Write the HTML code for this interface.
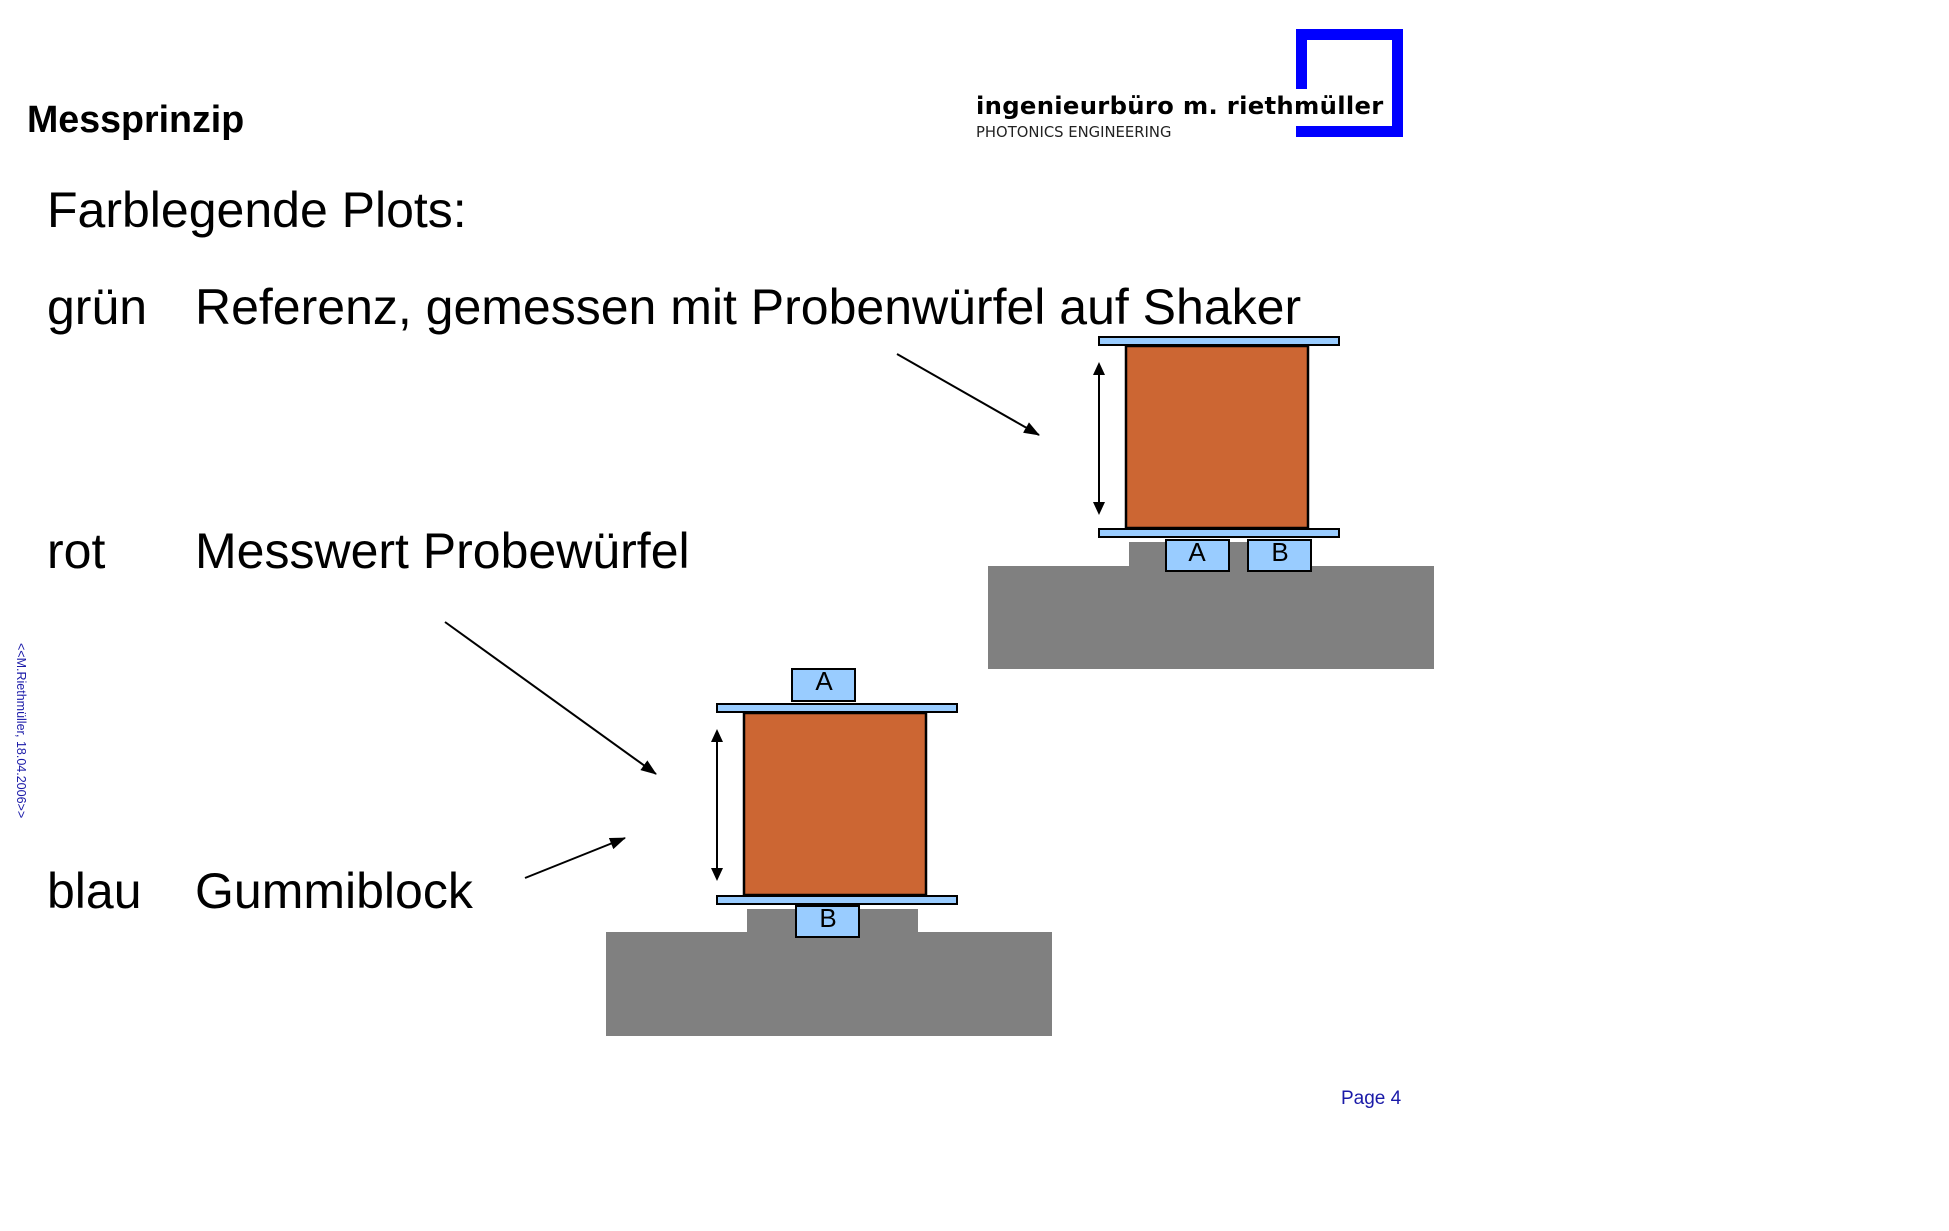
<!DOCTYPE html>
<html><head><meta charset="utf-8"><style>
body{margin:0;width:1949px;height:1231px;background:#fff;position:relative;overflow:hidden;font-family:"Liberation Sans",Arial,sans-serif;}
.t{position:absolute;white-space:nowrap;line-height:1;}
</style></head><body>
<div class="t" style="left:27px;top:101px;font-size:37.6px;font-weight:bold;">Messprinzip</div>
<div class="t" style="left:47px;top:185px;font-size:50px;">Farblegende Plots:</div>
<div class="t" style="left:47px;top:282px;font-size:50px;">grün</div>
<div class="t" style="left:195px;top:282px;font-size:50px;">Referenz, gemessen mit Probenwürfel auf Shaker</div>
<div class="t" style="left:47px;top:526px;font-size:50px;">rot</div>
<div class="t" style="left:195px;top:526px;font-size:50px;">Messwert Probewürfel</div>
<div class="t" style="left:47px;top:866px;font-size:50px;">blau</div>
<div class="t" style="left:195px;top:866px;font-size:50px;">Gummiblock</div>
<div class="t" style="left:976px;top:94px;font-size:24.3px;font-weight:bold;font-family:'DejaVu Sans',sans-serif;letter-spacing:0.3px;">ingenieurbüro m. riethmüller</div>
<div class="t" style="left:976px;top:126px;font-size:14.8px;font-family:'DejaVu Sans',sans-serif;color:#222;">PHOTONICS ENGINEERING</div>
<div class="t" style="left:1341px;top:1089px;font-size:19px;color:#1a1aa8;">Page 4</div>
<div class="t" style="left:12px;top:643px;font-size:12.5px;color:#1a1aa8;transform-origin:0 0;transform:translate(15px,0) rotate(90deg);">&lt;&lt;M.Riethmüller, 18.04.2006&gt;&gt;</div>
<svg width="1949" height="1231" style="position:absolute;left:0;top:0">
<defs><marker id="ah2" markerWidth="16" markerHeight="12" refX="15" refY="6" orient="auto" markerUnits="userSpaceOnUse"><path d="M0,0 L16,6 L0,12 Z" fill="#000"/></marker></defs>
<path d="M1301.5,89 V34.5 H1397.5 V131.5 H1296" fill="none" stroke="#0000ff" stroke-width="11"/>
<rect x="1129" y="542" width="120" height="30" fill="#808080"/>
<rect x="988" y="566" width="446" height="103" fill="#808080"/>
<rect x="1166" y="540" width="63" height="31" fill="#99ccff" stroke="#000" stroke-width="2"/>
<rect x="1248" y="540" width="63" height="31" fill="#99ccff" stroke="#000" stroke-width="2"/>
<text x="1197" y="561" font-size="26" text-anchor="middle" font-family="Liberation Sans">A</text>
<text x="1280" y="561" font-size="26" text-anchor="middle" font-family="Liberation Sans">B</text>
<rect x="1099" y="337" width="240" height="8" fill="#99ccff" stroke="#000" stroke-width="2"/>
<rect x="1126" y="346" width="182" height="182" fill="#cc6633" stroke="#000" stroke-width="2.5"/>
<rect x="1099" y="529" width="240" height="8" fill="#99ccff" stroke="#000" stroke-width="2"/>
<line x1="1099" y1="370" x2="1099" y2="508" stroke="#000" stroke-width="2"/>
<path d="M1099,362 L1093,375 L1105,375 Z M1099,515 L1093,502 L1105,502 Z"/>
<line x1="897" y1="354" x2="1039" y2="435" stroke="#000" stroke-width="2" marker-end="url(#ah2)"/>
<rect x="747" y="909" width="171" height="30" fill="#808080"/>
<rect x="606" y="932" width="446" height="104" fill="#808080"/>
<rect x="796" y="906" width="63" height="31" fill="#99ccff" stroke="#000" stroke-width="2"/>
<text x="828" y="927" font-size="26" text-anchor="middle" font-family="Liberation Sans">B</text>
<rect x="792" y="669" width="63" height="32" fill="#99ccff" stroke="#000" stroke-width="2"/>
<text x="824" y="690" font-size="26" text-anchor="middle" font-family="Liberation Sans">A</text>
<rect x="717" y="704" width="240" height="8" fill="#99ccff" stroke="#000" stroke-width="2"/>
<rect x="744" y="713" width="182" height="182" fill="#cc6633" stroke="#000" stroke-width="2.5"/>
<rect x="717" y="896" width="240" height="8" fill="#99ccff" stroke="#000" stroke-width="2"/>
<line x1="717" y1="737" x2="717" y2="874" stroke="#000" stroke-width="2"/>
<path d="M717,729 L711,742 L723,742 Z M717,881 L711,868 L723,868 Z"/>
<line x1="445" y1="622" x2="656" y2="774" stroke="#000" stroke-width="2" marker-end="url(#ah2)"/>
<line x1="525" y1="878" x2="625" y2="838" stroke="#000" stroke-width="2" marker-end="url(#ah2)"/>
</svg>
</body></html>
